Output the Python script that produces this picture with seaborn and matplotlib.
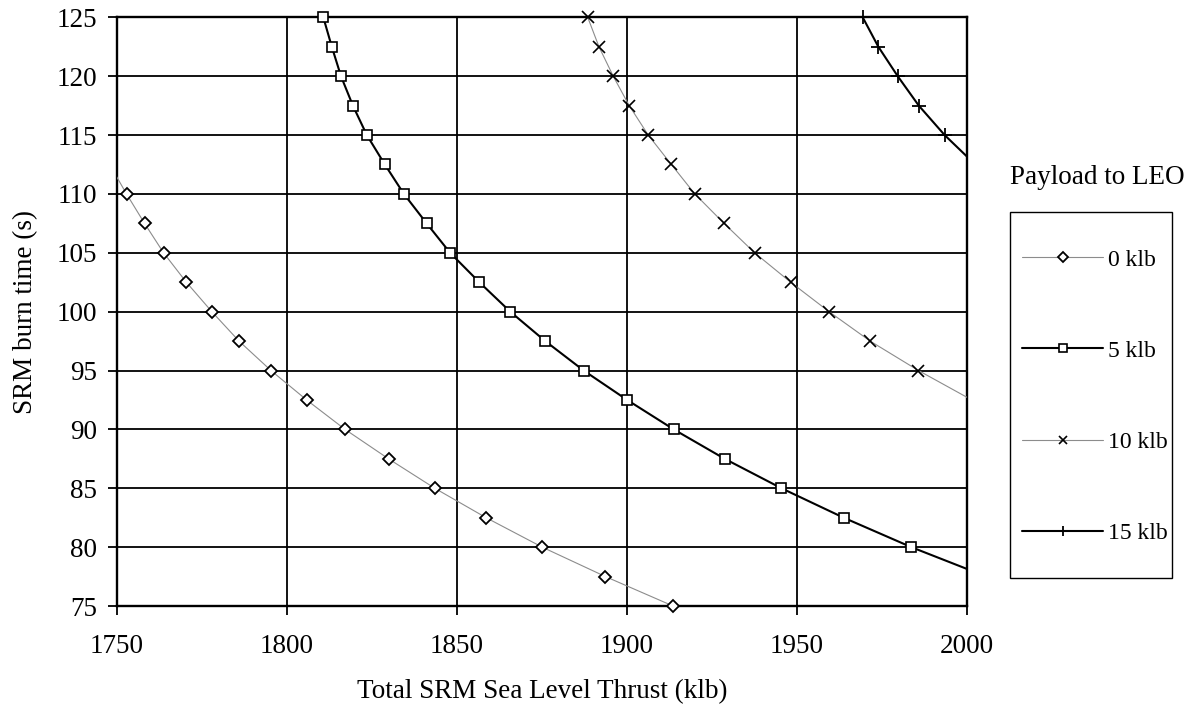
import matplotlib
matplotlib.use("Agg")
import matplotlib.pyplot as plt
from matplotlib.lines import Line2D
from matplotlib.patches import Rectangle
import seaborn as sns
import numpy as np

# ---- data ----
thrust_0 = [1747.8, 1752.8, 1758.1, 1763.7, 1770.4, 1777.9, 1785.9, 1795.3, 1805.8,
            1817.1, 1829.9, 1843.5, 1858.6, 1875.1, 1893.7, 1913.6]
burn_0 = [112.5, 110, 107.5, 105, 102.5, 100, 97.5, 95, 92.5, 90, 87.5, 85, 82.5,
          80, 77.5, 75]

thrust_5 = [1810.7, 1813.2, 1815.9, 1819.4, 1823.5, 1828.8, 1834.4, 1841.1, 1848.0,
            1856.6, 1865.7, 1876.0, 1887.3, 1900.1, 1913.8, 1928.8, 1945.5, 1963.8,
            1983.7, 2005.8]
burn_5 = [125, 122.5, 120, 117.5, 115, 112.5, 110, 107.5, 105, 102.5, 100, 97.5, 95,
          92.5, 90, 87.5, 85, 82.5, 80, 77.5]

thrust_10 = [1888.5, 1891.8, 1896.0, 1900.7, 1906.3, 1913.1, 1920.0, 1928.6, 1937.6,
             1948.2, 1959.5, 1971.6, 1985.8, 2001.5]
burn_10 = [125, 122.5, 120, 117.5, 115, 112.5, 110, 107.5, 105, 102.5, 100, 97.5, 95,
           92.5]

thrust_15 = [1969.4, 1974.0, 1979.7, 1985.9, 1993.5, 2002.5]
burn_15 = [125, 122.5, 120, 117.5, 115, 112.5]

series_labels = ["0 klb", "5 klb", "10 klb", "15 klb"]
x_ticks = [1750, 1800, 1850, 1900, 1950, 2000]
y_ticks = [75, 80, 85, 90, 95, 100, 105, 110, 115, 120, 125]

# ---- style ----
sns.set_theme(style="white")
plt.rcParams["font.family"] = ["Liberation Serif", "DejaVu Serif"]
FS = 19.5
LFS = 17

fig = plt.figure(figsize=(11.92, 7.13), dpi=100)
ax = fig.add_axes([117 / 1192, 1 - 606 / 713, (966.7 - 117) / 1192, (606 - 17.3) / 713])

styles = [
    dict(color="#8c8c8c", lw=0.8, marker="D", ms=6.0, mfc="white", mec="black", mew=1.3),
    dict(color="black", lw=1.5, marker="s", ms=7.0, mfc="white", mec="black", mew=1.2),
    dict(color="#8c8c8c", lw=0.8, marker="x", ms=8.0, mfc="black", mec="black", mew=1.2),
    dict(color="black", lw=1.5, marker="+", ms=9.5, mfc="black", mec="black", mew=1.3),
]
data = [(thrust_0, burn_0), (thrust_5, burn_5), (thrust_10, burn_10), (thrust_15, burn_15)]

xmin, xmax, ymin, ymax = 1750, 2000, 75, 125
handles = []
for (xs, ys), st, lab in zip(data, styles, series_labels):
    sns.lineplot(x=xs, y=ys, ax=ax, sort=False, estimator=None, color=st["color"],
                 lw=st["lw"], zorder=3)
    xa = np.array(xs); ya = np.array(ys)
    m = (xa >= xmin) & (xa <= xmax) & (ya >= ymin) & (ya <= ymax)
    ax.plot(xa[m], ya[m], ls="none", marker=st["marker"], ms=st["ms"], mfc=st["mfc"],
            mec=st["mec"], mew=st["mew"], clip_on=False, zorder=4)
    handles.append(Line2D([0], [0], color=st["color"], lw=st["lw"], marker=st["marker"],
                          ms=st["ms"] * 0.8, mfc=st["mfc"], mec=st["mec"], mew=st["mew"]))

ax.set_xlim(xmin, xmax)
ax.set_ylim(ymin, ymax)
ax.set_xticks(x_ticks)
ax.set_yticks(y_ticks)
ax.grid(True, color="black", lw=1.3)
ax.set_axisbelow(True)
for sp in ax.spines.values():
    sp.set_color("black")
    sp.set_linewidth(1.7)
    sp.set_visible(True)
ax.tick_params(axis="both", which="major", direction="out", length=6.5, width=1.3,
               color="black", labelsize=FS, labelcolor="black", pad=8,
               bottom=True, left=True)
ax.tick_params(axis="x", pad=14)
ax.set_xlabel("Total SRM Sea Level Thrust (klb)", fontsize=FS, color="black", labelpad=14)
ax.set_ylabel("SRM burn time (s)", fontsize=FS, color="black", labelpad=13)

# legend title and box
fig.text(1097 / 1192, 1 - 177 / 713, "Payload to LEO", fontsize=FS, ha="center",
         va="center", color="black")
fig.patches.append(Rectangle((1010 / 1192, 1 - 578 / 713), (1172 - 1010) / 1192,
                             (578 - 212) / 713, transform=fig.transFigure, fill=False,
                             edgecolor="black", lw=1.0))
fig.legend(handles, series_labels, loc="upper left",
           bbox_to_anchor=(1022 / 1192, 1 - 249 / 713), frameon=False, fontsize=LFS,
           handlelength=3.45, handletextpad=0.18, labelspacing=2.95, borderpad=0,
           borderaxespad=0, labelcolor="black")

fig.savefig("out.png", dpi=100)
